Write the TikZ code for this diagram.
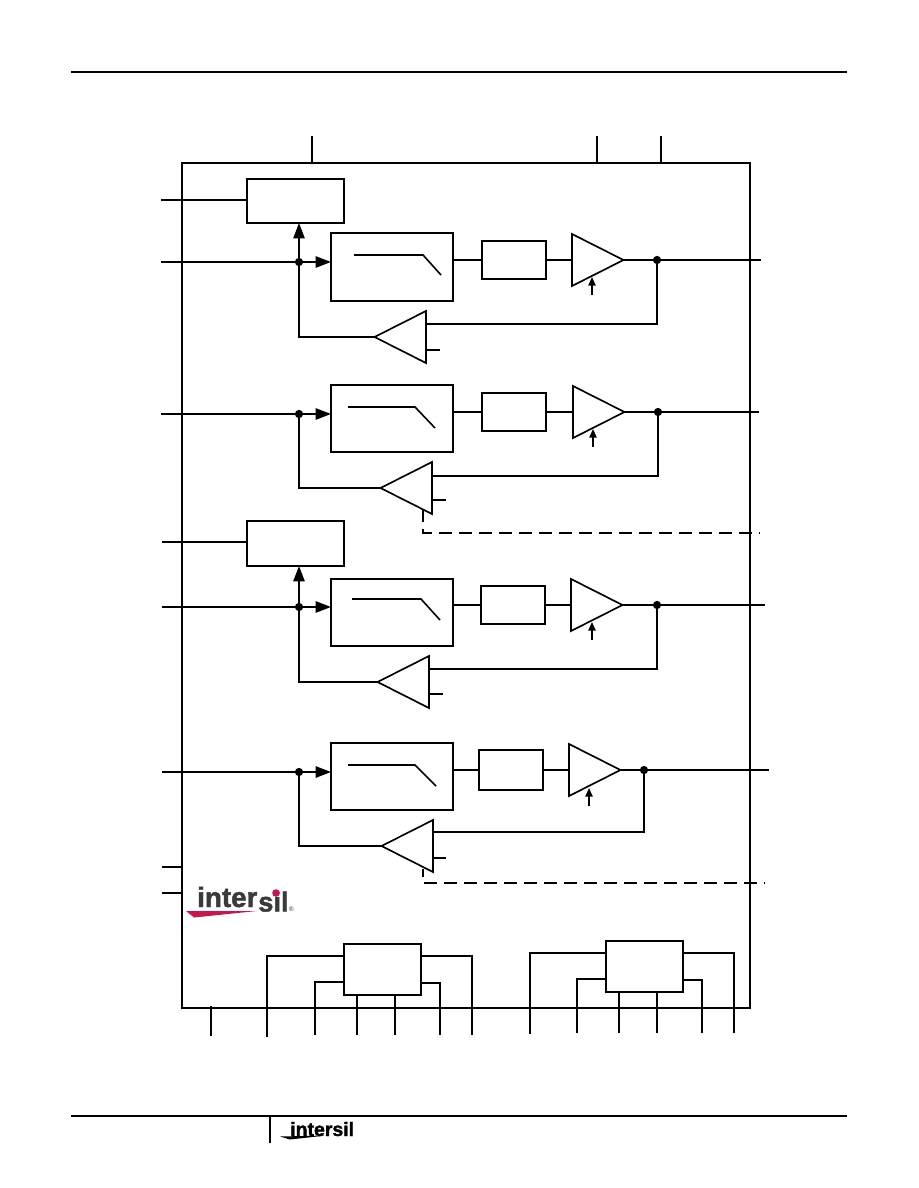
\documentclass[tikz,border=0pt]{standalone}
\usepackage{fontspec}
\setmainfont{Liberation Sans}
\newfontfamily\logofont[UprightFont=*,UprightFeatures={FakeBold=1.6},BoldFont=*]{Liberation Sans Bold}
\usepackage{xcolor}
\usetikzlibrary{positioning,calc,shapes.geometric,arrows.meta}
\definecolor{logodark}{RGB}{58,58,60}
\definecolor{logored}{RGB}{200,23,74}

\begin{document}
\begin{tikzpicture}[
    x=0.75pt, y=-0.75pt,
    wire/.style={line width=1.2pt},
    rule/.style={line width=1.5pt},
    blockbox/.style={rectangle, draw, fill=white, line width=1.25pt, inner sep=0pt, outer sep=0pt},
    chipbox/.style={blockbox, minimum width=426pt, minimum height=633.75pt, fill=none},
    selbox/.style={blockbox, minimum width=72.75pt, minimum height=33.75pt},
    filterbox/.style={blockbox, minimum width=91.5pt, minimum height=50.6pt},
    delaybox/.style={blockbox, minimum width=48.4pt, minimum height=28.5pt},
    busbox/.style={blockbox, minimum width=57.75pt, minimum height=38.25pt},
    ampout/.style={isosceles triangle, isosceles triangle stretches, draw, fill=white, line width=1.25pt,
                   minimum width=39pt, minimum height=38.6pt, inner sep=0pt, outer sep=0pt,
                   anchor=lower side},
    ampback/.style={ampout, shape border rotate=180},
    junction/.style={circle, fill=black, inner sep=0pt, minimum size=6.2pt},
    bigarrow/.style={wire, -{Triangle[length=11.5pt,width=8.5pt]}},
    ctlarrow/.style={wire, -{Triangle[length=6.5pt,width=5.5pt]}},
    busline/.style={dash pattern=on 9.75pt off 5.25pt, line width=1.6pt},
    logotext/.style={inner sep=0pt, anchor=base west}
]
\useasboundingbox (0,0) rectangle (918,1188);

% page rules
\coordinate (topruleL) at (71,72);
\coordinate (topruleR) at (847,72);
\coordinate (botruleL) at (71,1116);
\coordinate (botruleR) at (847,1116);
\coordinate (footbar) at (270,1143);
\draw[rule] (topruleL) -- (topruleR);
\draw[rule] (botruleL) -- (botruleR);
\draw[rule] (footbar) -- (footbar |- botruleL);

% chip outline
\node[chipbox] (chip) at (466,585.5) {};
\coordinate (top1) at (312,136);
\coordinate (top2) at (597,136);
\coordinate (top3) at (661,136);
\draw[wire] (top1) -- (top1 |- chip.north);
\draw[wire] (top2) -- (top2 |- chip.north);
\draw[wire] (top3) -- (top3 |- chip.north);

% channel 1
\node[selbox, minimum height=33pt] (sel1) at (295.5,201) {};
\node[filterbox] (filter1) at (392,267) {};
\node[delaybox] (delay1) at (514,260) {};
\node[ampout] (amp1) at (572,260) {};
\node[ampback] (fb1) at (426,337) {};
\node[junction] (in1j) at (299,262) {};
\node[junction] (out1j) at (657,260) {};
\coordinate (sel1pin) at (161,200);
\coordinate (in1pin) at (161,262);
\coordinate (out1pin) at (761,260);
\coordinate (fb1in) at (426,324);
\coordinate (fb1ref) at (426,350);
\coordinate (fb1stub) at (440,350);
\coordinate (amp1ctl) at (592,295);
\draw[wire] (sel1pin) -- (sel1pin -| sel1.west);
\draw[wire] (in1pin) -- (in1j);
\draw[bigarrow] (in1j) -- (in1j -| filter1.west);
\draw[bigarrow] (in1j) -- (in1j |- sel1.south);
\draw[wire] (delay1.west) -- (delay1.west -| filter1.east);
\draw[wire] (delay1.east) -- (amp1.lower side);
\draw[wire] (amp1.apex) -- (out1pin);
\draw[wire] (out1j) |- (fb1in);
\draw[wire] (fb1.apex) -| (in1j);
\draw[wire] (fb1ref) -- (fb1stub);
\draw[ctlarrow] (amp1ctl) -- ++(0,-18);
\draw[wire] (354,255) -- (423,255) -- (441,275);

% channel 2
\node[filterbox] (filter2) at (392,418.5) {};
\node[delaybox] (delay2) at (514,412) {};
\node[ampout] (amp2) at (573,412) {};
\node[ampback] (fb2) at (432,488) {};
\node[junction] (in2j) at (299,414) {};
\node[junction] (out2j) at (658,412) {};
\coordinate (in2pin) at (161,414);
\coordinate (out2pin) at (759,412);
\coordinate (fb2in) at (432,476);
\coordinate (fb2ref) at (432,500);
\coordinate (fb2stub) at (446,500);
\coordinate (amp2ctl) at (593,447);
\coordinate (bus1start) at (423,509);
\coordinate (bus1pin) at (760,533);
\draw[wire] (in2pin) -- (in2j);
\draw[bigarrow] (in2j) -- (in2j -| filter2.west);
\draw[wire] (delay2.west) -- (delay2.west -| filter2.east);
\draw[wire] (delay2.east) -- (amp2.lower side);
\draw[wire] (amp2.apex) -- (out2pin);
\draw[wire] (out2j) |- (fb2in);
\draw[wire] (fb2.apex) -| (in2j);
\draw[wire] (fb2ref) -- (fb2stub);
\draw[ctlarrow] (amp2ctl) -- ++(0,-18);
\draw[wire] (348,407) -- (415,407) -- (435,428);
\draw[busline] (bus1start) |- (bus1pin);

% channel 3
\node[selbox] (sel3) at (295.5,543.5) {};
\node[filterbox] (filter3) at (392,612.5) {};
\node[delaybox] (delay3) at (513,605) {};
\node[ampout] (amp3) at (571,605) {};
\node[ampback] (fb3) at (429,682) {};
\node[junction] (in3j) at (299,607) {};
\node[junction] (out3j) at (657,605) {};
\coordinate (sel3pin) at (162,542);
\coordinate (in3pin) at (162,607);
\coordinate (out3pin) at (765,605);
\coordinate (fb3in) at (429,669);
\coordinate (fb3ref) at (429,694);
\coordinate (fb3stub) at (443,694);
\coordinate (amp3ctl) at (592,640);
\draw[wire] (sel3pin) -- (sel3pin -| sel3.west);
\draw[wire] (in3pin) -- (in3j);
\draw[bigarrow] (in3j) -- (in3j -| filter3.west);
\draw[bigarrow] (in3j) -- (in3j |- sel3.south);
\draw[wire] (delay3.west) -- (delay3.west -| filter3.east);
\draw[wire] (delay3.east) -- (amp3.lower side);
\draw[wire] (amp3.apex) -- (out3pin);
\draw[wire] (out3j) |- (fb3in);
\draw[wire] (fb3.apex) -| (in3j);
\draw[wire] (fb3ref) -- (fb3stub);
\draw[ctlarrow] (amp3ctl) -- ++(0,-18);
\draw[wire] (352,599) -- (421,599) -- (440,620);

% channel 4
\node[filterbox] (filter4) at (392,776.5) {};
\node[delaybox, minimum height=29.6pt] (delay4) at (511,770) {};
\node[ampout] (amp4) at (569,770) {};
\node[ampback] (fb4) at (433,846) {};
\node[junction] (in4j) at (299,772) {};
\node[junction] (out4j) at (644,770) {};
\coordinate (in4pin) at (162,772);
\coordinate (out4pin) at (769,770);
\coordinate (fb4in) at (433,832);
\coordinate (fb4ref) at (433,858);
\coordinate (fb4stub) at (446,858);
\coordinate (amp4ctl) at (589,806);
\coordinate (bus2start) at (423,869);
\coordinate (bus2pin) at (765,883);
\draw[wire] (in4pin) -- (in4j);
\draw[bigarrow] (in4j) -- (in4j -| filter4.west);
\draw[wire] (delay4.west) -- (delay4.west -| filter4.east);
\draw[wire] (delay4.east) -- (amp4.lower side);
\draw[wire] (amp4.apex) -- (out4pin);
\draw[wire] (out4j) |- (fb4in);
\draw[wire] (fb4.apex) -| (in4j);
\draw[wire] (fb4ref) -- (fb4stub);
\draw[ctlarrow] (amp4ctl) -- ++(0,-18);
\draw[wire] (348,765) -- (415,765) -- (436,786);
\draw[busline, dash phase=3.75pt] (bus2start) |- (bus2pin);

% extra left pins
\coordinate (left1) at (162,867);
\coordinate (left2) at (162,893);
\draw[wire] (left1) -- (left1 -| chip.west);
\draw[wire] (left2) -- (left2 -| chip.west);

% logo
\fill[logored] (186,911) -- (257,911) -- (194,917.5) -- cycle;
\node[logotext, text=logodark, font=\logofont\fontsize{20.8}{20.8}\selectfont] (logoa) at (197,907) {inter};
\node[logotext, text=logodark, font=\logofont\fontsize{20.5}{20.5}\selectfont] (logob) at (258,911.5) {sil};
\fill[logored] (276,893) circle[radius=3.8];
\node[logotext, text=logodark, font=\fontsize{5}{5}\selectfont] (logoc) at (288.5,911) {\textregistered};

% bottom block left
\node[busbox] (bus1) at (382.5,969.5) {};
\coordinate (gnd) at (211,1036);
\coordinate (gndtop) at (211,1006);
\coordinate (la) at (267,1037);
\coordinate (lb) at (315,1035);
\coordinate (lc) at (357,1035);
\coordinate (ld) at (395,1035);
\coordinate (le) at (440,1035);
\coordinate (lf) at (472,1035);
\coordinate (bus1a) at (344,956);
\coordinate (bus1b) at (344,982);
\coordinate (bus1e) at (421,983);
\coordinate (bus1f) at (421,956);
\draw[wire] (gnd) -- (gndtop);
\draw[wire] (la) |- (bus1a);
\draw[wire] (lb) |- (bus1b);
\draw[wire] (lc) -- (lc |- bus1.south);
\draw[wire] (ld) -- (ld |- bus1.south);
\draw[wire] (le) |- (bus1e);
\draw[wire] (lf) |- (bus1f);

% bottom block right
\node[busbox] (bus2) at (644.5,966.5) {};
\coordinate (ra) at (530,1034);
\coordinate (rb) at (577,1033);
\coordinate (rc) at (619,1033);
\coordinate (rd) at (657,1033);
\coordinate (re) at (702,1033);
\coordinate (rf) at (734,1033);
\coordinate (bus2a) at (606,953);
\coordinate (bus2b) at (606,979);
\coordinate (bus2e) at (683,980);
\coordinate (bus2f) at (683,953);
\draw[wire] (ra) |- (bus2a);
\draw[wire] (rb) |- (bus2b);
\draw[wire] (rc) -- (rc |- bus2.south);
\draw[wire] (rd) -- (rd |- bus2.south);
\draw[wire] (re) |- (bus2e);
\draw[wire] (rf) |- (bus2f);

% footer logo
\node[logotext, font=\logofont\fontsize{14.6}{14.6}\selectfont] (footlogo) at (290,1136) {intersil};
\fill (280,1136.5) -- (326,1135.5) -- (290,1139.5) -- cycle;

\end{tikzpicture}
\end{document}
